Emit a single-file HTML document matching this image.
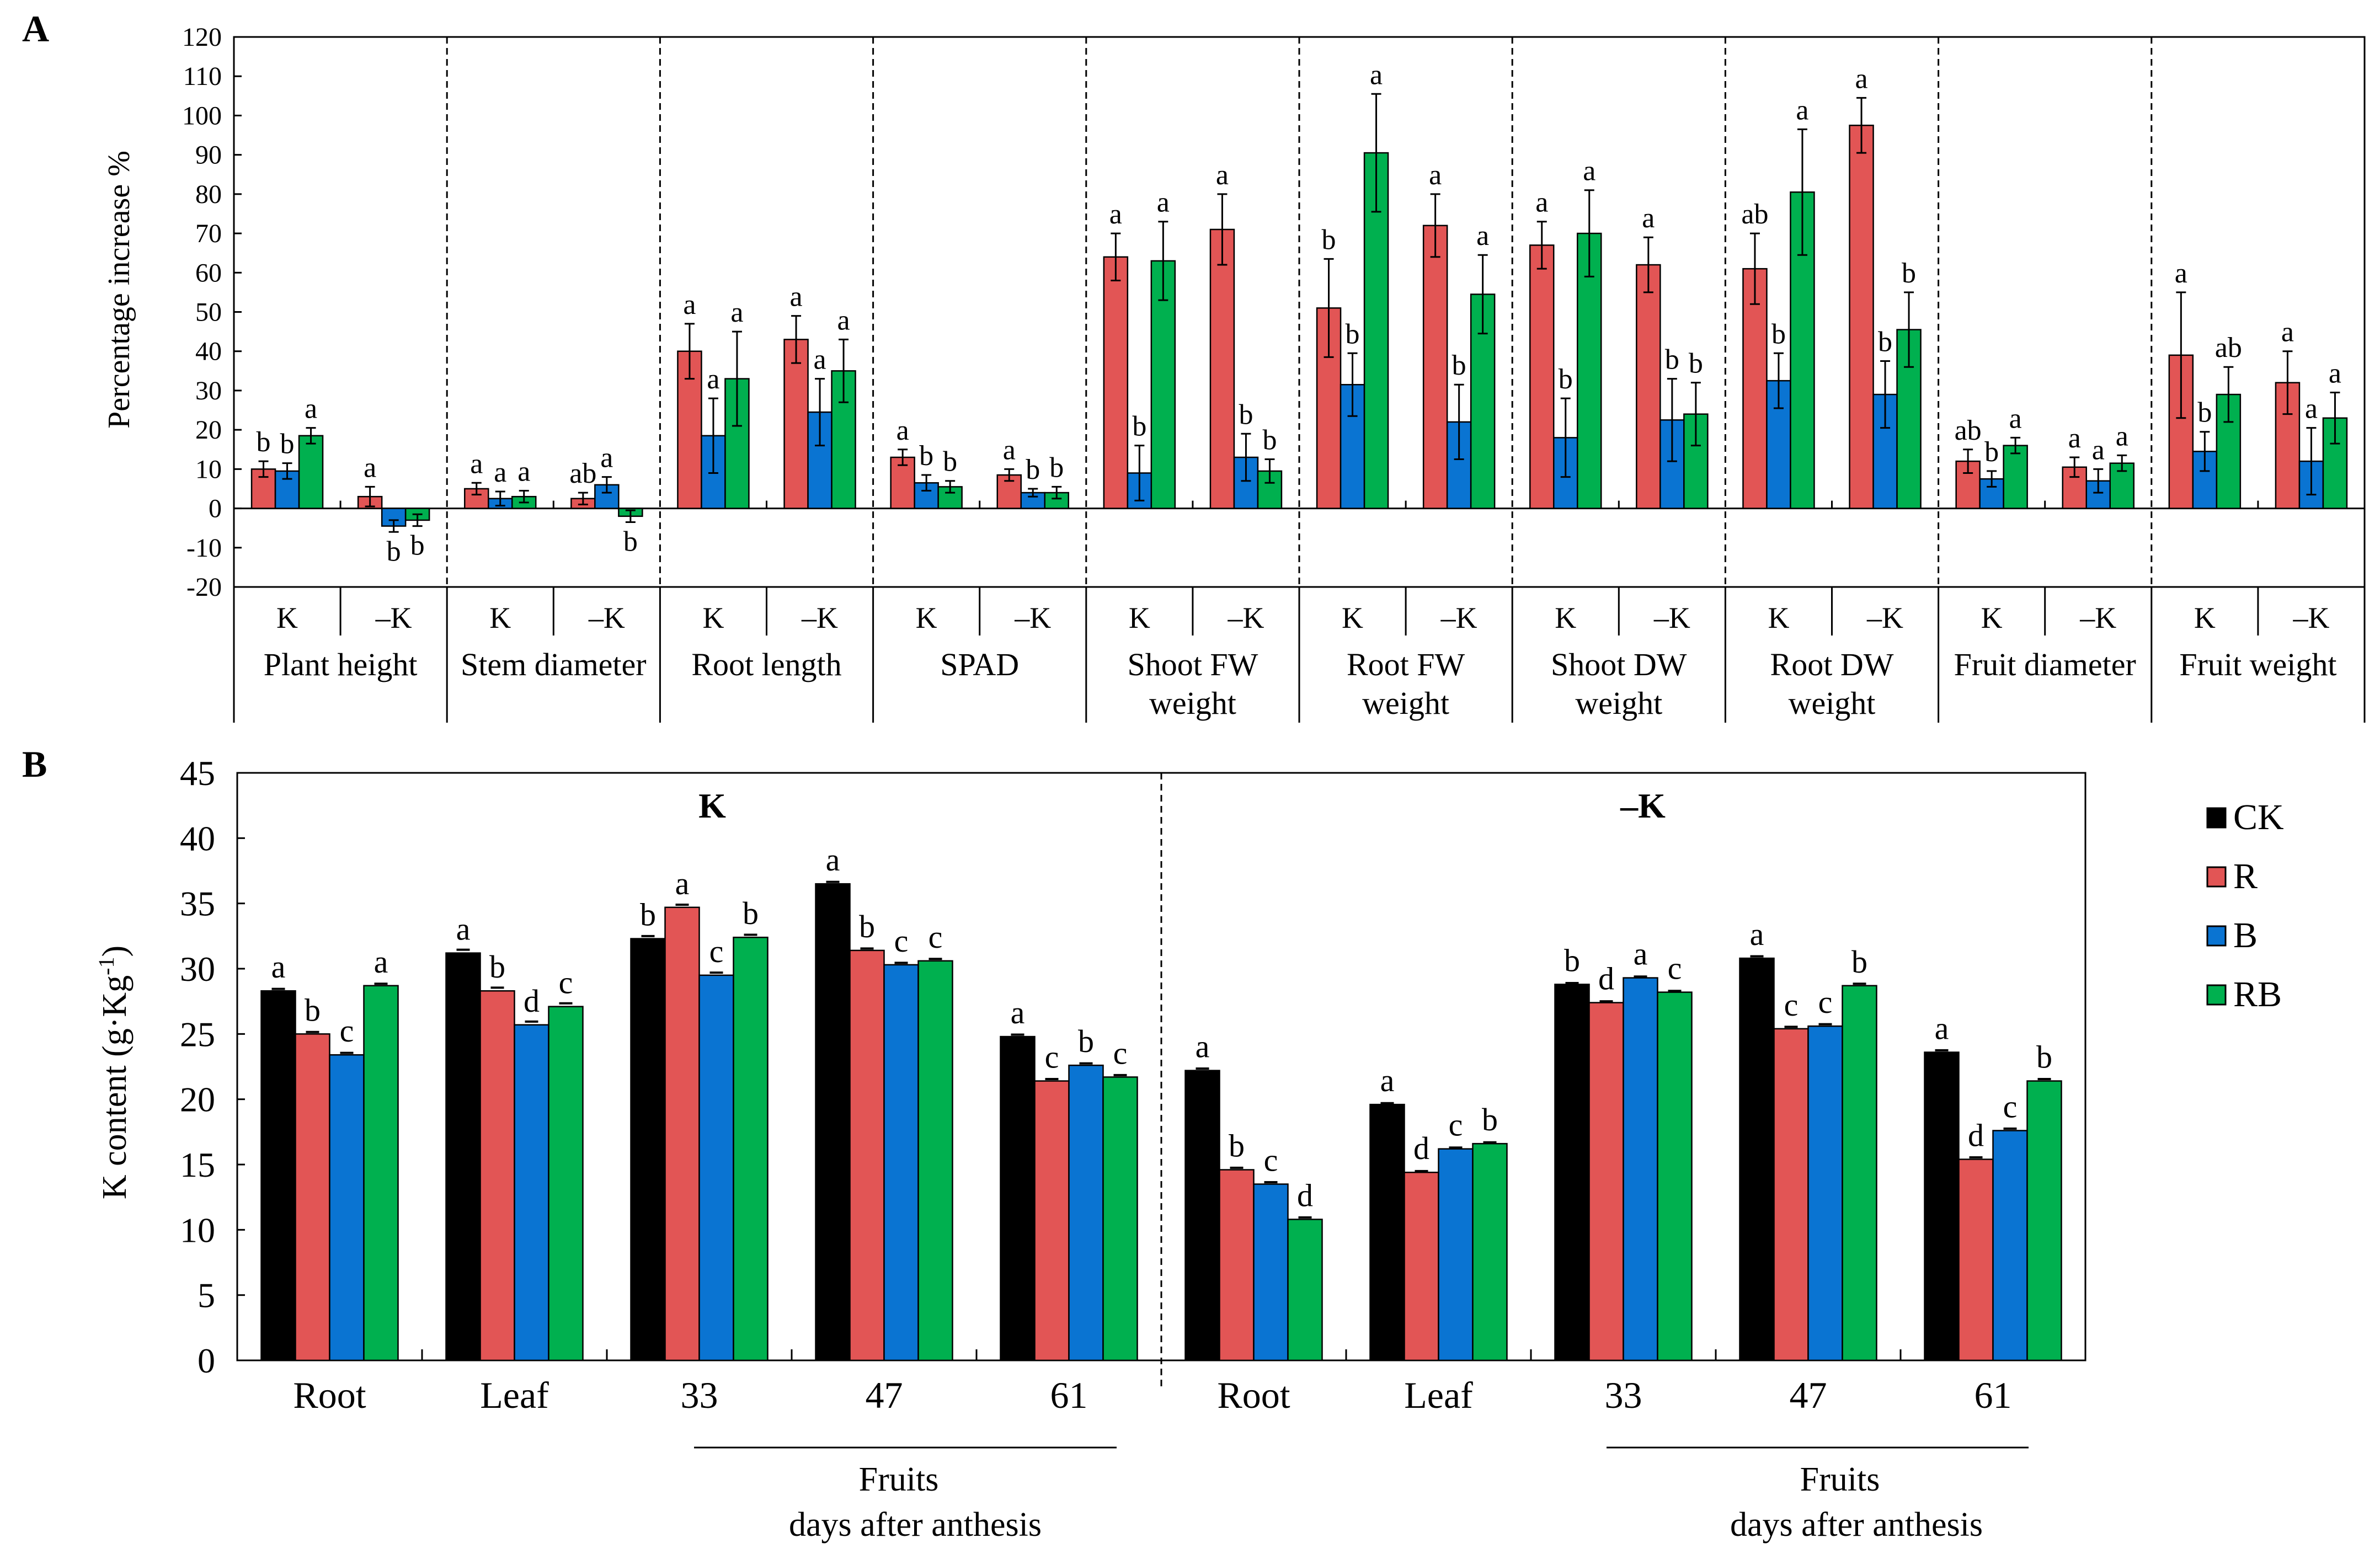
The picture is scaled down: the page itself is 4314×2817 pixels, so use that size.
<!DOCTYPE html>
<html><head><meta charset="utf-8"><style>
body{margin:0;background:#fff}
svg{display:block;font-family:"Liberation Serif",serif}
</style></head><body>
<svg id="fig" width="4314" height="2817" viewBox="0 0 4314 2817" xmlns="http://www.w3.org/2000/svg">
<text x="40" y="75" font-size="68" font-weight="bold">A</text>
<text x="40" y="1408" font-size="68" font-weight="bold">B</text>
<g id="pa"></g>
<g id="pb"></g>
</svg>
<script>
// ---------- Panel A data ----------
const groupsA = ["Plant height","Stem diameter","Root length","SPAD","Shoot FW|weight","Root FW|weight","Shoot DW|weight","Root DW|weight","Fruit diameter","Fruit weight"];
const subA = ["K","\u2013K"];
const redA = [10,3, 5,2.5, 40,43, 13,8.5, 64,71, 51,72, 67,62, 61,97.5, 12,10.5, 39,32];
const redErrA = [2,2.5, 1.5,1.5, 7,6, 2,1.5, 6,9, 12.5,8, 6,7, 9,7, 3,2.5, 16,8];
const blueA = [9.5,-4.5, 2.5,6, 18.5,24.5, 6.5,4, 9,13, 31.5,22, 18,22.5, 32.5,29, 7.5,7, 14.5,12];
const blueErrA = [2,1.5, 1.8,2, 9.5,8.5, 2,1, 7,6, 8,9.5, 10,10.5, 7,8.5, 2,3, 5,8.5];
const greenA = [18.5,-3, 3,-2, 33,35, 5.5,4, 63,9.5, 90.5,54.5, 70,24, 80.5,45.5, 16,11.5, 29,23];
const greenErrA = [2,1.5, 1.5,1.5, 12,8, 1.5,1.5, 10,3, 15,10, 11,8, 16,9.5, 2,2, 7,6.5];
const redLetA = ["b","a","a","ab","a","a","a","a","a","a","b","a","a","a","ab","a","ab","a","a","a"];
const blueLetA = ["b","b","a","a","a","a","b","b","b","b","b","b","b","b","b","b","b","a","b","a"];
const greenLetA = ["a","b","a","b","a","a","b","b","a","b","a","a","a","b","a","b","a","a","ab","a"];
const yTicksA = [-20,-10,0,10,20,30,40,50,60,70,80,90,100,110,120];

// ---------- Panel B data ----------
const catsB = ["Root","Leaf","33","47","61","Root","Leaf","33","47","61"];
const ckB = [28.3,31.2,32.3,36.5,24.8, 22.2,19.6,28.8,30.8,23.6];
const rB = [25,28.3,34.7,31.4,21.4, 14.6,14.4,27.4,25.4,15.4];
const bB = [23.4,25.7,29.5,30.3,22.6, 13.5,16.2,29.3,25.6,17.6];
const rbB = [28.7,27.1,32.4,30.6,21.7, 10.8,16.6,28.2,28.7,21.4];
const errB = [0.15,0.25,0.2,0.15,0.15, 0.15,0.1,0.1,0.15,0.15];
const ckLet = ["a","a","b","a","a","a","a","b","a","a"];
const rLet = ["b","b","a","b","c","b","d","d","c","d"];
const bLet = ["c","d","c","c","b","c","c","a","c","c"];
const rbLet = ["a","c","b","c","c","d","b","c","b","b"];
const yTicksB = [0,5,10,15,20,25,30,35,40,45];

const RED="#e25555", BLUE="#0a74d2", GREEN="#00b04f", BLACK="#000";
const NS="http://www.w3.org/2000/svg";
function mk(parent,tag,attrs,text){const e=document.createElementNS(NS,tag);for(const k in attrs)e.setAttribute(k,attrs[k]);if(text!==undefined)e.textContent=text;parent.appendChild(e);return e;}

// ---- Panel A ----
(function(){
const g=document.getElementById('pa');
const L=424,R=4286,T=67,B0=1064,BOT=1310;
const yA=v=>B0-(v+20)*(B0-T)/140;
const gw=(R-L)/groupsA.length, sw=gw/2, bw=43;
let e=mk(g,'rect',{x:L,y:T,width:R-L,height:B0-T,fill:'none',stroke:'#000','stroke-width':3});

e=mk(g,'line',{x1:L,y1:yA(0),x2:R,y2:yA(0),stroke:'#000','stroke-width':3});

mk(g,'line',{x1:L,y1:B0,x2:L,y2:BOT,stroke:'#000','stroke-width':3});
mk(g,'line',{x1:R,y1:B0,x2:R,y2:BOT,stroke:'#000','stroke-width':3});
yTicksA.forEach(v=>{
 mk(g,'line',{x1:L,y1:yA(v),x2:L+14,y2:yA(v),stroke:'#000','stroke-width':3});
 const t=mk(g,'text',{x:L-22,y:yA(v)+16,'font-size':48,'text-anchor':'end'},String(v));
 
});
let yl=mk(g,'text',{x:0,y:0,'font-size':56,'text-anchor':'middle',transform:`translate(234,525) rotate(-90)`},'Percentage increase %');

groupsA.forEach((name,gi)=>{
 const gx=L+gi*gw;
 if(gi>0){
  mk(g,'line',{x1:gx,y1:T,x2:gx,y2:B0,stroke:'#000','stroke-width':3,'stroke-dasharray':'12,8'});
  mk(g,'line',{x1:gx,y1:B0,x2:gx,y2:BOT,stroke:'#000','stroke-width':3});
 }
 mk(g,'line',{x1:gx+sw,y1:B0,x2:gx+sw,y2:1152,stroke:'#000','stroke-width':3});
 mk(g,'line',{x1:gx+sw,y1:yA(0),x2:gx+sw,y2:yA(0)-14,stroke:'#000','stroke-width':3});
 name.split('|').forEach((ln,li)=>{
  const t=mk(g,'text',{x:gx+gw/2,y:1224+li*70,'font-size':58,'text-anchor':'middle'},ln);
  
 });
 subA.forEach((s,si)=>{
  const t=mk(g,'text',{x:gx+si*sw+sw/2,y:1138,'font-size':54,'text-anchor':'middle'},s);
  
  const idx=gi*2+si;
  const series=[[redA,redErrA,redLetA,RED],[blueA,blueErrA,blueLetA,BLUE],[greenA,greenErrA,greenLetA,GREEN]];
  const x0=gx+si*sw+(sw-3*bw)/2;
  series.forEach((sr,k)=>{
   const v=sr[0][idx],er=sr[1][idx],x=x0+k*bw;
   const y1=Math.min(yA(v),yA(0)),h=Math.abs(yA(v)-yA(0));
   const b=mk(g,'rect',{x:x,y:y1,width:bw,height:h,fill:sr[3],stroke:'#000','stroke-width':2.5});
   
   const cx=x+bw/2;
   mk(g,'line',{x1:cx,y1:yA(v-er),x2:cx,y2:yA(v+er),stroke:'#000','stroke-width':3});
   mk(g,'line',{x1:cx-9,y1:yA(v-er),x2:cx+9,y2:yA(v-er),stroke:'#000','stroke-width':3});
   mk(g,'line',{x1:cx-9,y1:yA(v+er),x2:cx+9,y2:yA(v+er),stroke:'#000','stroke-width':3});
   const ly=v>=0?yA(v+er)-18:yA(v-er)+52;
   const lt=mk(g,'text',{x:cx,y:ly,'font-size':52,'text-anchor':'middle'},sr[2][idx]);
   
  });
 });
});
})();

// ---- Panel B ----
(function(){
const g=document.getElementById('pb');
const L=430,R=3780,T=1401,B0=2466;
const yB=v=>B0-v*(B0-T)/45;
const cw=(R-L)/catsB.length,bw=62;
let e=mk(g,'rect',{x:L,y:T,width:R-L,height:B0-T,fill:'none',stroke:'#000','stroke-width':3});

yTicksB.forEach(v=>{
 mk(g,'line',{x1:L,y1:yB(v),x2:L+14,y2:yB(v),stroke:'#000','stroke-width':3});
 const t=mk(g,'text',{x:L-40,y:yB(v)+22,'font-size':64,'text-anchor':'end'},String(v));
 
});
const yl=mk(g,'text',{x:0,y:0,'font-size':62,'text-anchor':'middle',transform:'translate(228,1944) rotate(-90)'});

yl.innerHTML='K content (g·Kg<tspan baseline-shift="super" font-size="40">-1</tspan>)';
const mid=L+5*cw;
const d=mk(g,'line',{x1:mid,y1:T,x2:mid,y2:2520,stroke:'#000','stroke-width':3,'stroke-dasharray':'12,8'});

let t=mk(g,'text',{x:1291,y:1482,'font-size':64,'font-weight':'bold','text-anchor':'middle'},'K');

t=mk(g,'text',{x:2978,y:1482,'font-size':64,'font-weight':'bold','text-anchor':'middle'},'\u2013K');

const series=[[ckB,ckLet,BLACK],[rB,rLet,RED],[bB,bLet,BLUE],[rbB,rbLet,GREEN]];
catsB.forEach((c,ci)=>{
 const cx0=L+ci*cw;
 if(ci>0&&ci!==5) mk(g,'line',{x1:cx0,y1:B0,x2:cx0,y2:B0-20,stroke:'#000','stroke-width':3});
 const lt=mk(g,'text',{x:cx0+cw/2,y:2552,'font-size':68,'text-anchor':'middle'},c);
 
 const x0=cx0+(cw-4*bw)/2;
 series.forEach((sr,k)=>{
  const v=sr[0][ci],x=x0+k*bw,er=errB[ci];
  const b=mk(g,'rect',{x:x,y:yB(v),width:bw,height:B0-yB(v),fill:sr[2],stroke:'#000','stroke-width':2.5});
  
  const cx=x+bw/2;
  mk(g,'line',{x1:cx-12,y1:yB(v+er),x2:cx+12,y2:yB(v+er),stroke:'#000','stroke-width':4});
  const l=mk(g,'text',{x:cx,y:yB(v)-24,'font-size':58,'text-anchor':'middle'},sr[1][ci]);
  
 });
});
[[1258,2024,1659],[2912,3677,3365]].forEach(([a,b,cx])=>{
 const ln=mk(g,'line',{x1:a,y1:2624,x2:b,y2:2624,stroke:'#000','stroke-width':3});
 
 let f=mk(g,'text',{x:cx-30,y:2702,'font-size':62,'text-anchor':'middle'},'Fruits');
 
 f=mk(g,'text',{x:cx,y:2784,'font-size':62,'text-anchor':'middle'},'days after anthesis');
 
});
const legNames=["CK","R","B","RB"],legCols=[BLACK,RED,BLUE,GREEN];
legNames.forEach((n,i)=>{
 const y=1465+i*107;
 const s=mk(g,'rect',{x:4001,y:y,width:33,height:35,fill:legCols[i],stroke:'#000','stroke-width':3});
 
 const tx=mk(g,'text',{x:4048,y:y+38,'font-size':66},n);
 
});
})();
</script>
</body></html>
